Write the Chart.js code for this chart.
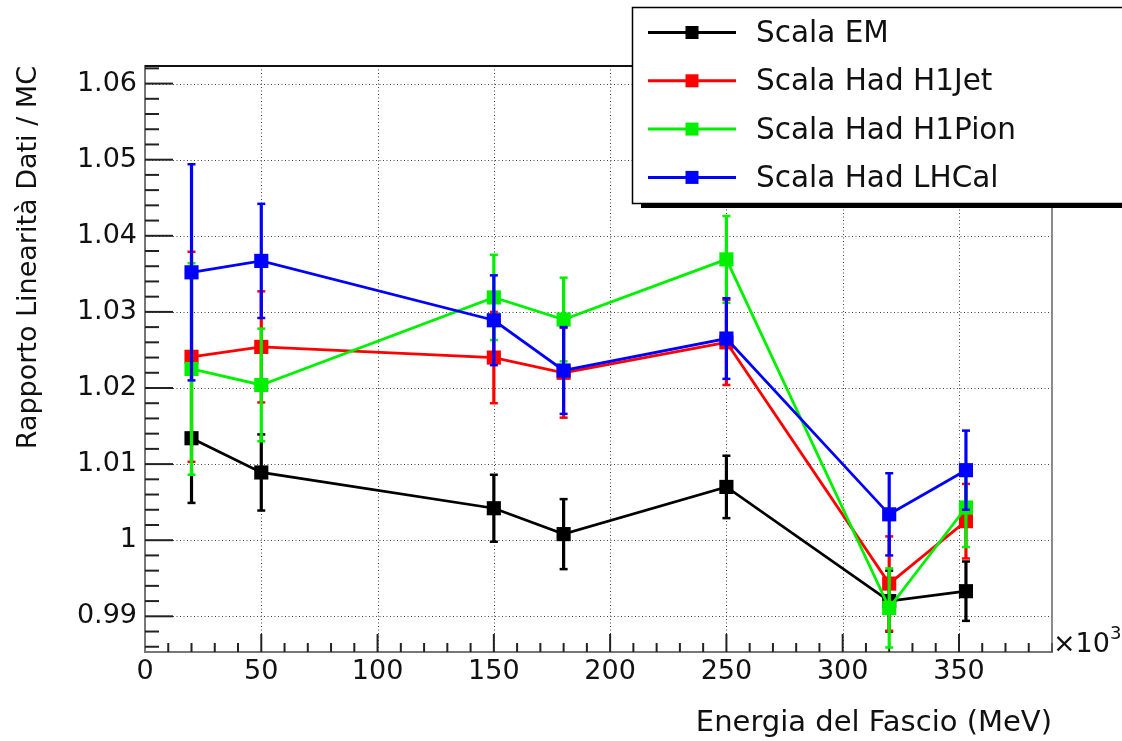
<!DOCTYPE html>
<html>
<head>
<meta charset="utf-8">
<script src="https://cdn.jsdelivr.net/npm/chart.js@4.4.0/dist/chart.umd.min.js"></script>
<style>
html,body{margin:0;padding:0;background:#fff;}
canvas{display:block;}
</style>
</head>
<body>
<canvas id="c" width="1122" height="741"></canvas>
<script>
// ---- data ----
const energies = [20, 50, 150, 180, 250, 320, 353];
const seriesLabels = ['Scala EM', 'Scala Had H1Jet', 'Scala Had H1Pion', 'Scala Had LHCal'];
const scalaEM     = [1.0134, 1.0089, 1.0042, 1.0008, 1.0070, 0.9920, 0.9933];
const errEM       = [0.0085, 0.0050, 0.0044, 0.0046, 0.0041, 0.0040, 0.0039];
const scalaH1Jet  = [1.0241, 1.0254, 1.0240, 1.0220, 1.0260, 0.9943, 1.0025];
const errH1Jet    = [0.0138, 0.0073, 0.0060, 0.0059, 0.0056, 0.0062, 0.0049];
const scalaH1Pion = [1.0225, 1.0204, 1.0319, 1.0290, 1.0369, 0.9911, 1.0043];
const errH1Pion   = [0.0139, 0.0074, 0.0056, 0.0055, 0.0057, 0.0052, 0.0052];
const scalaLHCal  = [1.0352, 1.0367, 1.0289, 1.0223, 1.0265, 1.0034, 1.0092];
const errLHCal    = [0.0142, 0.0075, 0.0059, 0.0057, 0.0053, 0.0054, 0.0052];
const xTickLabels = ['0', '50', '100', '150', '200', '250', '300', '350'];
const yTickLabels = ['0.99', '1', '1.01', '1.02', '1.03', '1.04', '1.05', '1.06'];
const xTitle = 'Energia del Fascio (MeV)';
const yTitle = 'Rapporto Linearità Dati / MC';
const xExponent = ['×10', '3'];

const FONT = 'DejaVu Sans';
const seriesValues = [scalaEM, scalaH1Jet, scalaH1Pion, scalaLHCal];
const seriesErrors = [errEM, errH1Jet, errH1Pion, errLHCal];
const seriesColors = ['#000000', '#ff0000', '#00f000', '#0000ff'];

function xLabel(v) { const s = String(Math.round(v)); return (Math.abs(v - Math.round(v)) < 1e-9 && xTickLabels.includes(s)) ? s : ''; }
function yLabel(v) { const s = parseFloat(v.toFixed(3)).toString(); return yTickLabels.includes(s) ? s : ''; }

const datasets = seriesValues.map((vals, i) => ({
  label: seriesLabels[i],
  data: energies.map((e, j) => ({x: e, y: vals[j]})),
  errorBars: seriesErrors[i],
  borderColor: seriesColors[i],
  backgroundColor: seriesColors[i],
  pointBackgroundColor: seriesColors[i],
  pointBorderColor: seriesColors[i],
  pointBorderWidth: 0,
  pointStyle: 'rect',
  pointRadius: 10,
  borderWidth: 2.8,
  tension: 0,
  fill: false,
  order: 4 - i
}));

function seg(ctx, x1, y1, x2, y2) { ctx.beginPath(); ctx.moveTo(x1, y1); ctx.lineTo(x2, y2); ctx.stroke(); }

const framePlugin = {
  id: 'frame',
  beforeDatasetsDraw(chart) {
    const {ctx, chartArea: a, scales: {x, y}} = chart;
    ctx.save();
    // dotted grid at major ticks
    ctx.setLineDash([1, 2.5]);
    ctx.lineWidth = 1;
    ctx.strokeStyle = '#444';
    x.ticks.forEach(t => {
      if (xLabel(t.value) !== '' && t.value > 0) {
        const px = Math.round(x.getPixelForValue(t.value)) + 0.5;
        seg(ctx, px, a.top, px, a.bottom);
      }
    });
    y.ticks.forEach(t => {
      if (yLabel(t.value) !== '') {
        const py = Math.round(y.getPixelForValue(t.value)) + 0.5;
        seg(ctx, a.left, py, a.right, py);
      }
    });
    ctx.setLineDash([]);
    // inward ticks
    ctx.strokeStyle = '#222';
    ctx.lineWidth = 2;
    x.ticks.forEach(t => {
      const px = x.getPixelForValue(t.value);
      if (t.value <= 0) return;
      const len = xLabel(t.value) !== '' ? 18 : 9;
      seg(ctx, px, a.bottom, px, a.bottom - len);
    });
    y.ticks.forEach(t => {
      const py = y.getPixelForValue(t.value);
      const len = yLabel(t.value) !== '' ? 28 : 14;
      seg(ctx, a.left, py, a.left + len, py);
    });
    // top and right frame
    ctx.strokeStyle = '#111';
    ctx.lineWidth = 2;
    seg(ctx, a.left, a.top, a.right, a.top);
    ctx.strokeStyle = '#666';
    ctx.lineWidth = 1.5;
    seg(ctx, a.right, a.top, a.right, a.bottom);
    ctx.restore();
  },
  afterDraw(chart) {
    const {ctx, chartArea: a} = chart;
    ctx.save();
    // x10^3 exponent label
    ctx.fillStyle = '#111';
    ctx.textAlign = 'left';
    ctx.textBaseline = 'alphabetic';
    ctx.font = '27px "' + FONT + '"';
    ctx.fillText(xExponent[0], a.right + 1, a.bottom);
    const w = ctx.measureText(xExponent[0]).width;
    ctx.font = '18px "' + FONT + '"';
    ctx.fillText(xExponent[1], a.right + 1 + w, a.bottom - 13);
    // legend box with shadow
    const lx = 632, ly = 7, lw = 500, lh = 196;
    ctx.fillStyle = '#000';
    ctx.fillRect(lx + 9, ly + lh - 1, lw, 6);
    ctx.fillStyle = '#fff';
    ctx.fillRect(lx, ly, lw, lh);
    ctx.strokeStyle = '#000';
    ctx.lineWidth = 1.5;
    ctx.strokeRect(lx + 0.5, ly + 0.5, lw, lh);
    chart.data.datasets.forEach((ds, i) => {
      const cy = 32.5 + i * 48.3;
      ctx.strokeStyle = ds.borderColor;
      ctx.lineWidth = 3;
      seg(ctx, 648, cy, 736, cy);
      ctx.fillStyle = ds.borderColor;
      ctx.fillRect(692 - 6.5, cy - 6.5, 13, 13);
      ctx.fillStyle = '#111';
      ctx.font = '29.5px "' + FONT + '"';
      ctx.textBaseline = 'middle';
      ctx.fillText(ds.label, 756, cy + 2);
    });
    ctx.restore();
  }
};

const errorPlugin = {
  id: 'errorBars',
  beforeDatasetDraw(chart, args) {
    const ds = chart.data.datasets[args.index];
    const {ctx, chartArea: a, scales: {y}} = chart;
    ctx.save();
    ctx.beginPath();
    ctx.rect(a.left, a.top, a.right - a.left, a.bottom - a.top);
    ctx.clip();
    ctx.strokeStyle = ds.borderColor;
    args.meta.data.forEach((pt, j) => {
      const v = ds.data[j].y, e = ds.errorBars[j];
      const yt = y.getPixelForValue(v + e), yb = y.getPixelForValue(v - e);
      ctx.lineWidth = 3.2;
      seg(ctx, pt.x, yt, pt.x, yb);
      ctx.lineWidth = 2.5;
      seg(ctx, pt.x - 4, yt, pt.x + 4, yt);
      seg(ctx, pt.x - 4, yb, pt.x + 4, yb);
    });
    ctx.restore();
  }
};

new Chart(document.getElementById('c'), {
  type: 'line',
  data: {datasets},
  plugins: [framePlugin, errorPlugin],
  options: {
    responsive: false,
    animation: false,
    layout: {padding: {top: 66, right: 70, bottom: 0, left: 0}},
    plugins: {legend: {display: false}, tooltip: {enabled: false}},
    scales: {
      x: {
        type: 'linear',
        min: 0, max: 390,
        afterFit: s => { s.height = 89; },
        grid: {display: false, drawTicks: false},
        border: {display: true, color: '#777', width: 2},
        ticks: {
          stepSize: 10, includeBounds: false, autoSkip: false, maxRotation: 0,
          padding: 4, color: '#111',
          font: {family: FONT, size: 27, lineHeight: 1.2},
          callback: v => xLabel(v)
        },
        title: {
          display: true, text: xTitle, align: 'end', color: '#111',
          font: {family: FONT, size: 29, lineHeight: 1},
          padding: {top: 0, bottom: 3.5}
        }
      },
      y: {
        type: 'linear',
        min: 0.98531, max: 1.06231,
        afterFit: s => { s.width = 145; },
        grid: {display: false, drawTicks: false},
        border: {display: true, color: '#777', width: 2},
        ticks: {
          stepSize: 0.002, includeBounds: false, autoSkip: false, maxTicksLimit: 1000,
          padding: 8, color: '#111',
          font: {family: FONT, size: 27, lineHeight: 1.2},
          callback: v => yLabel(v)
        },
        title: {
          display: true, text: yTitle, align: 'end', color: '#111',
          font: {family: FONT, size: 27, lineHeight: 1},
          padding: {top: 15.5, bottom: 0}
        }
      }
    }
  }
});
</script>
</body>
</html>
